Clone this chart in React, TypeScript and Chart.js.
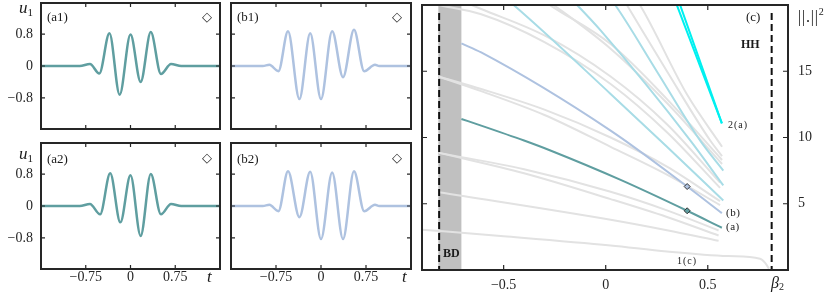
import React, { useEffect, useRef } from 'react';
import { Chart, registerables } from 'chart.js';
Chart.register(...registerables);

// ---------- small panels (a1, b1, a2, b2) ----------
const tRange = [-1.5, 1.5];
const uRange = [-1.58, 1.58];
const tTicks = [-0.75, 0, 0.75];
const uTicks = [-0.8, 0, 0.8];

const a1T = [-1.5, -0.85, -0.68, -0.523, -0.353, -0.182, 0, 0.17, 0.34, 0.51, 0.68, 0.85, 1.5];
const a1U = [0, 0, 0.05, -0.19, 0.82, -0.72, 0.79, -0.4, 0.85, -0.2, 0.05, 0, 0];
const a2T = [-1.5, -0.85, -0.68, -0.51, -0.34, -0.17, 0, 0.17, 0.34, 0.51, 0.68, 0.85, 1.5];
const a2U = [0, 0, 0.05, -0.21, 0.82, -0.41, 0.77, -0.75, 0.8, -0.21, 0.05, 0, 0];
const b1T = [-1.5, -0.97, -0.86, -0.71, -0.55, -0.36, -0.18, 0, 0.186, 0.367, 0.55, 0.72, 0.9, 0.97, 1.5];
const b1U = [0, 0, 0.03, -0.13, 0.87, -0.83, 0.82, -0.83, 0.87, -0.28, 0.91, -0.13, 0.03, 0, 0];
const b2T = [-1.5, -0.97, -0.86, -0.71, -0.55, -0.36, -0.18, 0, 0.186, 0.367, 0.55, 0.72, 0.9, 0.97, 1.5];
const b2U = [0, 0, 0.03, -0.13, 0.87, -0.28, 0.86, -0.83, 0.84, -0.83, 0.87, -0.13, 0.03, 0, 0];

// ---------- panel (c) ----------
const betaRange = [-0.9, 0.893];
const normRange = [0, 20];
const betaTicks = [-0.5, 0, 0.5];
const normTicks = [5, 10, 15];
const BD = -0.816;
const HH = 0.813;
const bandStart = -0.82;
const bandEnd = -0.707;
const dashTop = 19.4;

const brA_beta = [-0.707, -0.61, -0.4, -0.268, 0.073, 0.399, 0.569];
const brA_norm = [11.4, 10.9, 9.77, 9.0, 6.8, 4.47, 3.19];
const brB_beta = [-0.707, -0.61, 0.024, 0.399, 0.569];
const brB_norm = [17.1, 16.42, 10.52, 6.3, 4.29];
const markBeta = [0.399, 0.399];
const markNorm = [6.3, 4.47];

const cyA_beta = [0.0, 0.049, 0.25, 0.463, 0.576];
const cyA_norm = [20.9, 19.94, 15.0, 9.76, 7.5];
const cyB_beta = [-0.18, -0.137, -0.024, 0.415, 0.576];
const cyB_norm = [20.6, 19.94, 18.06, 9.77, 6.38];
const cyC_beta = [-0.5, -0.447, 0.024, 0.3, 0.576];
const cyC_norm = [20.6, 19.94, 13.29, 9.3, 5.25];
const thick1_beta = [0.336, 0.569];
const thick1_norm = [20.5, 11.07];
const thick2_beta = [0.353, 0.569];
const thick2_norm = [20.5, 11.07];

const g1c_beta = [-0.92, -0.5, 0.024, 0.3, 0.6, 0.756, 0.78, 0.8];
const g1c_norm = [3.07, 2.55, 1.85, 1.4, 1.05, 0.85, 0.55, 0.1];
const g2_beta = [-0.816, 0.024, 0.3, 0.553];
const g2_norm = [5.87, 3.79, 3.0, 2.2];
const g1a_beta = [-0.816, -0.4, 0.024, 0.3, 0.553];
const g1a_norm = [8.84, 7.6, 5.9, 4.5, 2.98];
const g1b_beta = [-0.816, -0.4, 0.024, 0.3, 0.553];
const g1b_norm = [8.84, 7.3, 5.35, 4.0, 2.6];
const g4a_beta = [-0.816, -0.61, -0.3, 0.024, 0.3, 0.56];
const g4a_norm = [14.59, 13.66, 12.1, 10.0, 7.8, 5.2];
const g4b_beta = [-0.816, -0.61, -0.3, 0.024, 0.3, 0.56];
const g4b_norm = [14.59, 13.5, 11.7, 9.3, 7.2, 4.9];
const g5a_beta = [-0.82, -0.61, -0.3, 0.024, 0.3, 0.56];
const g5a_norm = [20.0, 19.3, 17.2, 14.04, 10.4, 6.2];
const g5b_beta = [-0.72, -0.61, -0.3, 0.024, 0.3, 0.56];
const g5b_norm = [20.4, 19.7, 17.7, 14.6, 11.0, 6.6];
const g6a_beta = [-0.35, -0.268, 0.024, 0.3, 0.57];
const g6a_norm = [20.8, 19.94, 17.05, 12.9, 8.3];
const g6b_beta = [-0.33, -0.25, 0.024, 0.3, 0.57];
const g6b_norm = [20.8, 19.94, 16.7, 12.6, 8.0];
const g7_beta = [0.08, 0.106, 0.3, 0.512, 0.57];
const g7_norm = [20.6, 19.94, 15.0, 9.77, 8.6];
const g8_beta = [0.14, 0.17, 0.4, 0.57];
const g8_norm = [20.6, 19.94, 13.2, 9.3];

const TEAL = '#5f9ea0';
const STEEL = '#aec2e0';
const POWDER = '#a8dce6';
const CYAN = '#00f0f0';
const GRAY = '#e2e2e2';
const INK = '#262626';
const SERIF = "'Liberation Serif', 'DejaVu Serif', serif";

const fmt = (v: number) => (v < 0 ? '\u2212' + String(Math.abs(v)) : String(v));
const pts = (xs: number[], ys: number[]) => xs.map((x, i) => ({ x, y: ys[i] }));

const framePlugin = (tickLen: number) => ({
  id: 'frame',
  afterDatasetsDraw(chart: any) {
    const { ctx, chartArea: a, scales } = chart;
    const xs = scales.x;
    const ys = scales.y;
    ctx.save();
    ctx.strokeStyle = INK;
    ctx.lineWidth = 1.2;
    ctx.beginPath();
    xs.ticks.forEach((t: any) => {
      const p = xs.getPixelForValue(t.value);
      ctx.moveTo(p, a.bottom);
      ctx.lineTo(p, a.bottom - tickLen);
      ctx.moveTo(p, a.top);
      ctx.lineTo(p, a.top + tickLen);
    });
    ys.ticks.forEach((t: any) => {
      const p = ys.getPixelForValue(t.value);
      ctx.moveTo(a.left, p);
      ctx.lineTo(a.left + tickLen, p);
      ctx.moveTo(a.right, p);
      ctx.lineTo(a.right - tickLen, p);
    });
    ctx.stroke();
    ctx.lineWidth = 2;
    ctx.strokeRect(a.left, a.top, a.right - a.left, a.bottom - a.top);
    ctx.restore();
  },
});

const bandPlugin = {
  id: 'band',
  beforeDatasetsDraw(chart: any) {
    const { ctx, chartArea: a, scales } = chart;
    const x0 = scales.x.getPixelForValue(bandStart);
    const x1 = scales.x.getPixelForValue(bandEnd);
    ctx.save();
    ctx.fillStyle = '#c0c0c0';
    ctx.fillRect(x0, a.top, x1 - x0, a.bottom - a.top);
    ctx.restore();
  },
};

const tickFont = { family: SERIF, size: 14 };

const fixSize = (w: number | null, h: number | null) => (s: any) => {
  if (w !== null) s.width = w;
  if (h !== null) s.height = h;
  s.paddingTop = 0;
  s.paddingBottom = 0;
  s.paddingLeft = 0;
  s.paddingRight = 0;
};

function smallConfig(t: number[], u: number[], color: string, showY: boolean, showX: boolean) {
  return {
    type: 'line',
    data: {
      datasets: [
        {
          data: pts(t, u),
          borderColor: color,
          borderWidth: 2.5,
          pointRadius: 0,
          cubicInterpolationMode: 'monotone',
          fill: false,
        },
      ],
    },
    options: {
      responsive: false,
      animation: false,
      events: [],
      layout: { padding: { top: 3, right: 4, left: 0, bottom: 0 } },
      plugins: { legend: { display: false }, tooltip: { enabled: false } },
      scales: {
        x: {
          type: 'linear',
          min: tRange[0],
          max: tRange[1],
          afterBuildTicks: (s: any) => {
            s.ticks = tTicks.map((v) => ({ value: v }));
          },
          ticks: { display: showX, padding: 0, color: INK, font: tickFont, callback: (v: any) => fmt(v) },
          grid: { display: false, drawTicks: false },
          border: { display: false },
          afterFit: fixSize(null, showX ? 24 : 5),
        },
        y: {
          type: 'linear',
          min: uRange[0],
          max: uRange[1],
          afterBuildTicks: (s: any) => {
            s.ticks = uTicks.map((v) => ({ value: v }));
          },
          ticks: { display: showY, padding: 8, color: INK, font: tickFont, callback: (v: any) => fmt(v) },
          grid: { display: false, drawTicks: false },
          border: { display: false },
          afterFit: fixSize(showY ? 41 : 4, null),
        },
      },
    },
    plugins: [framePlugin(4)],
  };
}

function line(bx: number[], ny: number[], color: string, width: number) {
  return {
    data: pts(bx, ny),
    borderColor: color,
    borderWidth: width,
    pointRadius: 0,
    cubicInterpolationMode: 'monotone',
    fill: false,
  };
}

function bigConfig() {
  const bottomToTop: any[] = [
    line(g1c_beta, g1c_norm, GRAY, 2),
    line(g2_beta, g2_norm, GRAY, 2),
    line(g1a_beta, g1a_norm, GRAY, 2),
    line(g1b_beta, g1b_norm, GRAY, 2),
    line(g4a_beta, g4a_norm, GRAY, 2),
    line(g4b_beta, g4b_norm, GRAY, 2),
    line(g5a_beta, g5a_norm, GRAY, 2),
    line(g5b_beta, g5b_norm, GRAY, 2),
    line(g6a_beta, g6a_norm, GRAY, 2),
    line(g6b_beta, g6b_norm, GRAY, 2),
    line(g7_beta, g7_norm, GRAY, 2),
    line(g8_beta, g8_norm, GRAY, 2),
    line(cyA_beta, cyA_norm, POWDER, 2),
    line(cyB_beta, cyB_norm, POWDER, 2),
    line(cyC_beta, cyC_norm, POWDER, 2),
    line(brB_beta, brB_norm, STEEL, 2),
    line(brA_beta, brA_norm, TEAL, 2),
    line(thick1_beta, thick1_norm, CYAN, 2),
    line(thick2_beta, thick2_norm, CYAN, 2),
    {
      data: pts(markBeta, markNorm),
      showLine: false,
      pointStyle: 'rectRot',
      pointRadius: 3,
      pointBorderWidth: 1,
      pointBorderColor: '#333',
      pointBackgroundColor: [STEEL, TEAL],
    },
    {
      data: pts([BD, BD], [dashTop, 0]),
      borderColor: '#111',
      borderWidth: 2,
      borderDash: [7, 4],
      pointRadius: 0,
      fill: false,
    },
    {
      data: pts([HH, HH], [dashTop, 0]),
      borderColor: '#111',
      borderWidth: 2,
      borderDash: [7, 4],
      pointRadius: 0,
      fill: false,
    },
  ];
  return {
    type: 'line',
    data: { datasets: bottomToTop.slice().reverse() },
    options: {
      responsive: false,
      animation: false,
      events: [],
      layout: { padding: { top: 3, right: 0, left: 4, bottom: 0 } },
      plugins: { legend: { display: false }, tooltip: { enabled: false } },
      scales: {
        x: {
          type: 'linear',
          min: betaRange[0],
          max: betaRange[1],
          afterBuildTicks: (s: any) => {
            s.ticks = betaTicks.map((v) => ({ value: v }));
          },
          ticks: { padding: 7, color: INK, font: tickFont, callback: (v: any) => fmt(v) },
          grid: { display: false, drawTicks: false },
          border: { display: false },
          afterFit: fixSize(null, 23),
        },
        y: {
          type: 'linear',
          position: 'right',
          min: normRange[0],
          max: normRange[1],
          afterBuildTicks: (s: any) => {
            s.ticks = normTicks.map((v) => ({ value: v }));
          },
          ticks: { padding: 10, color: INK, font: tickFont, callback: (v: any) => fmt(v) },
          grid: { display: false, drawTicks: false },
          border: { display: false },
          afterFit: fixSize(42, null),
        },
      },
    },
    plugins: [bandPlugin, framePlugin(5)],
  };
}

function ChartBox(props: { left: number; top: number; width: number; height: number; make: () => any }) {
  const ref = useRef<HTMLCanvasElement>(null);
  useEffect(() => {
    const chart = new Chart(ref.current as HTMLCanvasElement, props.make());
    return () => chart.destroy();
  }, []);
  return (
    <canvas
      ref={ref}
      width={props.width}
      height={props.height}
      style={{ position: 'absolute', left: props.left, top: props.top, width: props.width, height: props.height }}
    />
  );
}

const txt = (left: number, top: number, size: number, extra: any = {}): any => ({
  position: 'absolute',
  left,
  top,
  fontSize: size,
  fontFamily: SERIF,
  lineHeight: 1,
  whiteSpace: 'nowrap',
  color: '#1a1a1a',
  ...extra,
});

const DIAMOND = '\u25C7';

export default function App() {
  return (
    <div style={{ position: 'absolute', left: 0, top: 0, width: 830, height: 293, background: '#fff', overflow: 'hidden' }}>
      <ChartBox left={0} top={0} width={224} height={134} make={() => smallConfig(a1T, a1U, TEAL, true, false)} />
      <ChartBox left={227} top={0} width={188} height={134} make={() => smallConfig(b1T, b1U, STEEL, false, false)} />
      <ChartBox left={0} top={140} width={224} height={153} make={() => smallConfig(a2T, a2U, TEAL, true, true)} />
      <ChartBox left={227} top={140} width={188} height={153} make={() => smallConfig(b2T, b2U, STEEL, false, true)} />
      <ChartBox left={417} top={0} width={413} height={293} make={bigConfig} />

      <div style={txt(19, -1, 17, { fontStyle: 'italic' })}>
        u<span style={{ fontSize: 11, fontStyle: 'normal', position: 'relative', top: 3 }}>1</span>
      </div>
      <div style={txt(19, 145, 17, { fontStyle: 'italic' })}>
        u<span style={{ fontSize: 11, fontStyle: 'normal', position: 'relative', top: 3 }}>1</span>
      </div>
      <div style={txt(207, 268, 17, { fontStyle: 'italic' })}>t</div>
      <div style={txt(402, 268, 17, { fontStyle: 'italic' })}>t</div>

      <div style={txt(47, 10, 13)}>(a1)</div>
      <div style={txt(237, 10, 13)}>(b1)</div>
      <div style={txt(47, 152, 13)}>(a2)</div>
      <div style={txt(237, 152, 13)}>(b2)</div>
      <div style={txt(202, 10, 13, { fontFamily: "'DejaVu Sans', sans-serif" })}>{DIAMOND}</div>
      <div style={txt(392, 10, 13, { fontFamily: "'DejaVu Sans', sans-serif" })}>{DIAMOND}</div>
      <div style={txt(202, 151, 13, { fontFamily: "'DejaVu Sans', sans-serif" })}>{DIAMOND}</div>
      <div style={txt(392, 151, 13, { fontFamily: "'DejaVu Sans', sans-serif" })}>{DIAMOND}</div>

      <div style={txt(746, 10, 13)}>(c)</div>
      <div style={txt(741, 38, 12, { fontWeight: 'bold' })}>HH</div>
      <div style={txt(443, 247, 12, { fontWeight: 'bold' })}>BD</div>
      <div style={txt(798, 9, 16, { letterSpacing: 0.8 })}>
        ||.||<span style={{ fontSize: 10, position: 'relative', top: -7 }}>2</span>
      </div>
      <div style={txt(771, 275, 16, { fontStyle: 'italic' })}>
        β<span style={{ fontSize: 10, fontStyle: 'normal', position: 'relative', top: 2 }}>2</span>
      </div>
      <div style={txt(728, 120, 10, { letterSpacing: 1 })}>2(a)</div>
      <div style={txt(726, 207, 11, { letterSpacing: 0.5 })}>(b)</div>
      <div style={txt(726, 221, 11, { letterSpacing: 0.5 })}>(a)</div>
      <div style={txt(677, 256, 10, { letterSpacing: 1 })}>1(c)</div>
    </div>
  );
}
